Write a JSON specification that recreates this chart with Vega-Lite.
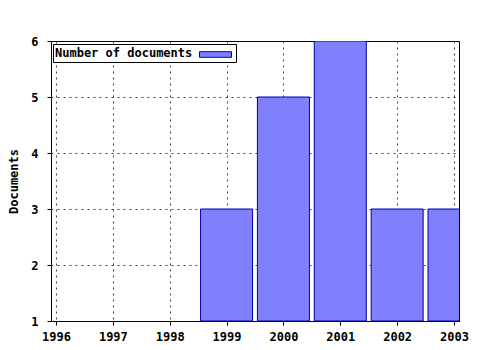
{
  "$schema": "https://vega.github.io/schema/vega-lite/v6.json",
  "autosize": "none",
  "padding": {"left": 51, "top": 41, "right": 21, "bottom": 29},
  "width": 408,
  "height": 280,
  "background": "white",
  "config": {
    "view": {"stroke": "black", "strokeWidth": 1},
    "font": "DejaVu Sans Mono",
    "axis": {
      "labelFont": "DejaVu Sans Mono",
      "labelFontWeight": "bold",
      "labelFontSize": 12,
      "labelColor": "black",
      "titleFont": "DejaVu Sans Mono",
      "titleFontWeight": "bold",
      "titleFontSize": 12,
      "titleColor": "black",
      "tickColor": "black",
      "tickSize": 4,
      "domainColor": "black",
      "gridColor": "black",
      "gridOpacity": 0.75,
      "gridDash": [2, 4],
      "gridWidth": 1
    }
  },
  "data": {
    "values": [
      {"year": 1999, "docs": 3, "series": "Number of documents"},
      {"year": 2000, "docs": 5, "series": "Number of documents"},
      {"year": 2001, "docs": 6, "series": "Number of documents"},
      {"year": 2002, "docs": 3, "series": "Number of documents"},
      {"year": 2003, "docs": 3, "series": "Number of documents"}
    ]
  },
  "mark": {"type": "bar", "size": 52, "stroke": "#0000a8", "strokeWidth": 1, "clip": true, "opacity": 1},
  "encoding": {
    "x": {
      "field": "year",
      "type": "quantitative",
      "scale": {"domain": [1996, 2003], "nice": false, "zero": false},
      "axis": {"values": [1996, 1997, 1998, 1999, 2000, 2001, 2002, 2003], "format": "d", "title": null, "labelPadding": 6, "labelFlush": false}
    },
    "y": {
      "field": "docs",
      "type": "quantitative",
      "scale": {"domain": [1, 6], "nice": false, "zero": false},
      "axis": {"values": [1, 2, 3, 4, 5, 6], "format": "d", "title": "Documents", "labelPadding": 9, "titlePadding": 10, "labelFlush": false}
    },
    "y2": {"datum": 1},
    "color": {
      "field": "series",
      "type": "nominal",
      "scale": {"range": ["#8080ff"]},
      "legend": {
        "title": "Number of documents",
        "titleOrient": "left",
        "titleFont": "DejaVu Sans Mono",
        "titleFontWeight": "bold",
        "titleFontSize": 12,
        "titleColor": "black",
        "titlePadding": 14,
        "labelExpr": "''",
        "labelOffset": 0,
        "symbolType": "M-2,-0.35H2V0.35H-2Z",
        "symbolSize": 256,
        "symbolFillColor": "#8080ff",
        "symbolStrokeColor": "#0000a8",
        "symbolStrokeWidth": 1,
        "symbolOpacity": 1,
        "strokeColor": "black",
        "fillColor": "white",
        "padding": 2,
        "orient": "none",
        "legendX": 2,
        "legendY": 3
      }
    }
  }
}
